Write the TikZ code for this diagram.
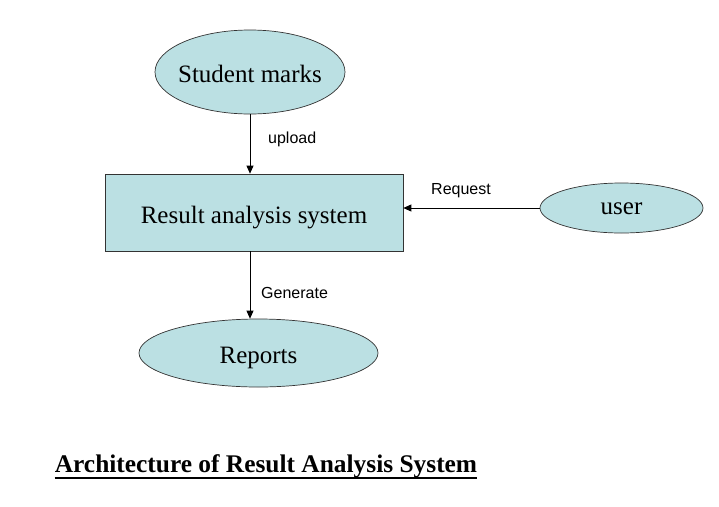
\documentclass[tikz,border=0pt]{standalone}
\usepackage{fontspec}
\setmainfont{Liberation Serif}
\newfontfamily\labelfont{Liberation Sans}
\usetikzlibrary{shapes.geometric, arrows.meta}
\definecolor{boxfill}{RGB}{187,224,227}

\begin{document}
\begin{tikzpicture}[x=1pt, y=-1pt,
  entity/.style={ellipse, draw=black!80, fill=boxfill, line width=0.7pt, inner sep=0pt},
  process/.style={rectangle, draw=black!80, fill=boxfill, line width=0.7pt, inner sep=0pt},
  nodetext/.style={anchor=base, inner sep=0pt, font=\fontsize{25}{30}\selectfont},
  flow/.style={-{Triangle[length=8pt, width=7pt]}, line width=0.8pt},
  flowlabel/.style={anchor=west, inner sep=0pt, font=\labelfont\fontsize{16}{19}\selectfont}]
\useasboundingbox (0,0) rectangle (719,506);
\node (marks) at (250,72) [entity, minimum width=190, minimum height=84] {};
\node (rsys) at (254,212.5) [process, minimum width=298, minimum height=77] {};
\node (user) at (621.5,208) [entity, minimum width=163, minimum height=50] {};
\node (reports) at (258.5,353) [entity, minimum width=239, minimum height=68] {};
\node (markstext) at (250,82) [nodetext] {Student marks};
\node (rsystext) at (254,223) [nodetext] {Result analysis system};
\node (usertext) at (621.5,214) [nodetext] {user};
\node (reportstext) at (258.5,363) [nodetext] {Reports};
\draw [flow] (marks.south) -- (marks.south |- rsys.north);
\draw [flow] (user.west) -- (user.west -| rsys.east);
\draw [flow] (rsys.south -| marks.south) -- (reports.north -| marks.south);
\node (upload) at (268,139) [flowlabel] {upload};
\node (request) at (431,191) [flowlabel] {Request};
\node (generate) at (261,293) [flowlabel] {Generate};
\node (title) at (266,472) [anchor=base, inner sep=0pt, font=\bfseries\fontsize{25.4}{30}\selectfont] {Architecture of Result Analysis System};
\draw [line width=1.6pt] ([yshift=-6pt]title.base west) -- ([yshift=-6pt]title.base east);
\end{tikzpicture}
\end{document}
